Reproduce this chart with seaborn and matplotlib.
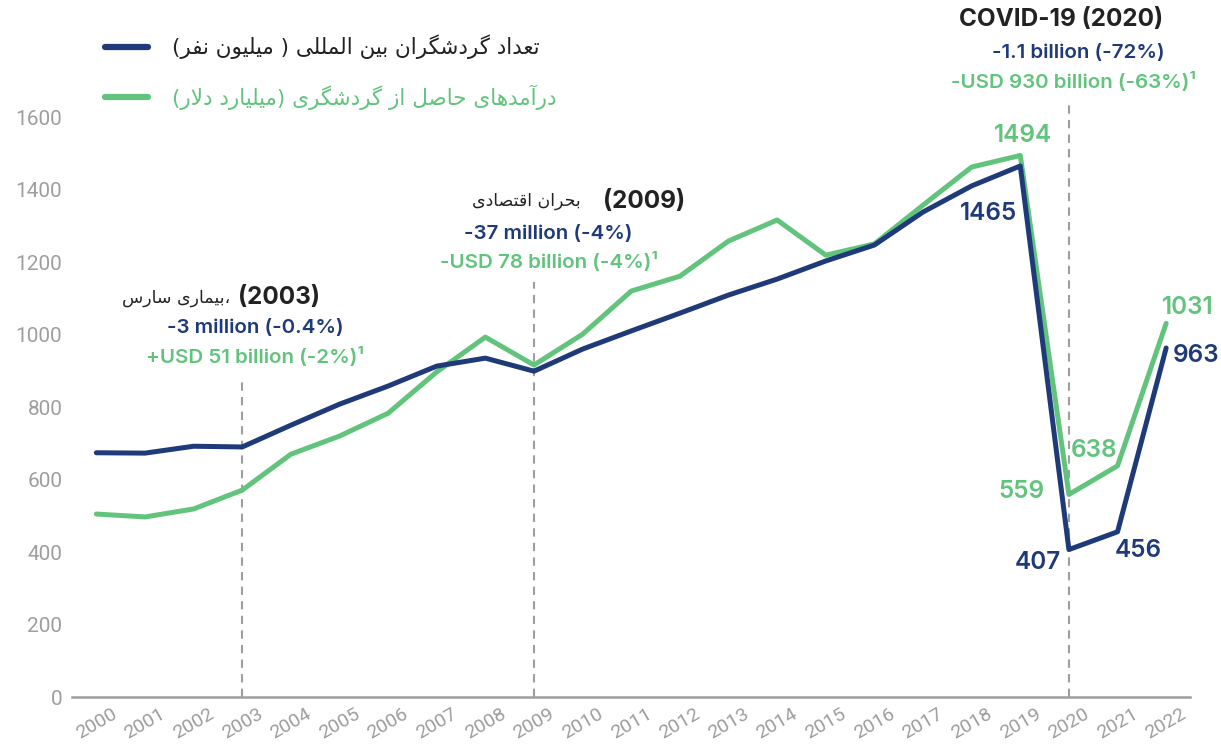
import matplotlib
matplotlib.use('Agg')
import matplotlib.pyplot as plt
import matplotlib.transforms as mtransforms
import seaborn as sns
import pandas as pd

years = list(range(2000, 2023))
arrivals = [674, 673, 692, 690, 750, 808, 858, 913, 935, 899, 960, 1010, 1059,
            1109, 1153, 1203, 1247, 1338, 1410, 1465, 407, 456, 963]
receipts = [505, 497, 519, 571, 670, 720, 783, 897, 993, 916, 1001, 1120, 1161,
            1258, 1316, 1219, 1250, 1357, 1462, 1494, 559, 638, 1031]
y_ticks = [0, 200, 400, 600, 800, 1000, 1200, 1400, 1600]
event_years = [2003, 2009, 2020]

label_arrivals = "تعداد گردشگران بین المللی ( میلیون نفر)"
label_receipts = "درآمدهای حاصل از گردشگری (میلیارد دلار)"

NAVY = "#1f3a78"
GREEN = "#62c47c"
GRAY = "#9e9e9e"

# --- tiny Persian shaper (no arabic_reshaper available) ---
FORMS = {
    'ا': (0xFE8D, 0xFE8E, None, None), 'آ': (0xFE81, 0xFE82, None, None),
    'ب': (0xFE8F, 0xFE90, 0xFE91, 0xFE92), 'ت': (0xFE95, 0xFE96, 0xFE97, 0xFE98),
    'ح': (0xFEA1, 0xFEA2, 0xFEA3, 0xFEA4), 'د': (0xFEA9, 0xFEAA, None, None),
    'ر': (0xFEAD, 0xFEAE, None, None), 'ز': (0xFEAF, 0xFEB0, None, None),
    'س': (0xFEB1, 0xFEB2, 0xFEB3, 0xFEB4), 'ش': (0xFEB5, 0xFEB6, 0xFEB7, 0xFEB8),
    'ص': (0xFEB9, 0xFEBA, 0xFEBB, 0xFEBC), 'ع': (0xFEC9, 0xFECA, 0xFECB, 0xFECC),
    'ف': (0xFED1, 0xFED2, 0xFED3, 0xFED4), 'ق': (0xFED5, 0xFED6, 0xFED7, 0xFED8),
    'ل': (0xFEDD, 0xFEDE, 0xFEDF, 0xFEE0), 'م': (0xFEE1, 0xFEE2, 0xFEE3, 0xFEE4),
    'ن': (0xFEE5, 0xFEE6, 0xFEE7, 0xFEE8), 'ه': (0xFEE9, 0xFEEA, 0xFEEB, 0xFEEC),
    'و': (0xFEED, 0xFEEE, None, None), 'ی': (0xFEEF, 0xFEF0, 0xFEF3, 0xFEF4),
    'گ': (0xFB92, 0xFB93, 0xFB94, 0xFB95),
}


def fa(text):
    out = []
    i = 0
    n = len(text)
    while i < n:
        c = text[i]
        if c not in FORMS:
            out.append(c)
            i += 1
            continue
        prev = text[i - 1] if i > 0 else ''
        joins_prev = prev in FORMS and FORMS[prev][2] is not None
        if c == 'ل' and i + 1 < n and text[i + 1] in ('ا', 'آ'):
            base = 0xFEFB if text[i + 1] == 'ا' else 0xFEF5
            out.append(chr(base + (1 if joins_prev else 0)))
            i += 2
            continue
        nxt = text[i + 1] if i + 1 < n else ''
        joins_next = FORMS[c][2] is not None and nxt in FORMS
        iso, fin, ini, med = FORMS[c]
        if joins_prev and joins_next:
            code = med
        elif joins_prev:
            code = fin
        elif joins_next:
            code = ini
        else:
            code = iso
        out.append(chr(code))
        i += 1
    vis = ''.join(out)[::-1]
    return vis.translate(str.maketrans('()', ')('))


df = pd.DataFrame({'year': years * 2,
                   'value': arrivals + receipts,
                   'series': ['arrivals'] * len(years) + ['receipts'] * len(years)})

sns.set_theme(style="white")
plt.rcParams['font.family'] = ['Inter', 'DejaVu Sans']

fig = plt.figure(figsize=(12.21, 7.48), dpi=100)
ax = fig.add_axes([0.059, 0.068, 0.916, 0.932])

sns.lineplot(data=df, x='year', y='value', hue='series',
             palette={'arrivals': NAVY, 'receipts': GREEN},
             hue_order=['receipts', 'arrivals'], linewidth=3.6, legend=False, ax=ax)

ax.set_xlim(1999.5, 2022.5)
ax.set_ylim(0, 697 / 0.3625)
ax.set_xlabel('')
ax.set_ylabel('')
ax.set_yticks(y_ticks)
ax.set_yticklabels([str(v) for v in y_ticks], family='Roboto',
                   fontsize=15, color=GRAY)
ax.set_xticks(years)
ax.set_xticklabels([str(y) for y in years], family='Roboto',
                   fontsize=14, color=GRAY, rotation=30, ha='center')
shift = mtransforms.ScaledTranslation(-12 / 100, 0, fig.dpi_scale_trans)
for t in ax.get_xticklabels():
    t.set_transform(t.get_transform() + shift)
ax.tick_params(axis='y', length=0, pad=7)
ax.tick_params(axis='x', direction='inout', length=9, width=1.2, color=GRAY, pad=1)
for s in ['top', 'right', 'left']:
    ax.spines[s].set_visible(False)
ax.spines['bottom'].set_color(GRAY)
ax.spines['bottom'].set_linewidth(1.8)

# dashed event markers
tops = {2003: 870, 2009: 1145, 2020: 1650}
for yr in event_years:
    ax.plot([yr, yr], [0, tops[yr]], color=GRAY, lw=1.5, ls=(0, (4, 3)), zorder=1)

# event annotations
head = dict(fontsize=17.5, fontweight='bold', color='#222222', va='center')
sub = dict(fontsize=14.8, fontweight='semibold', ha='center', va='center')
per = dict(family='DejaVu Sans', fontsize=12.5, color='#222222', ha='right', va='center')

ax.text(2004.6, 1101, '(2003)', ha='right', **head)
ax.text(2002.75, 1101, fa('بیماری سارس') + '،', **per)
ax.text(2003.26, 1018, '-3 million (-0.4%)', color=NAVY, **sub)
ax.text(2003.26, 938, '+USD 51 billion (-2%)\u00b9', color=GREEN, **sub)

ax.text(2012.1, 1368, '(2009)', ha='right', **head)
ax.text(2009.97, 1368, fa('بحران اقتصادی'), **per)
ax.text(2009.3, 1277, '-37 million (-4%)', color=NAVY, **sub)
ax.text(2009.3, 1200, '-USD 78 billion (-4%)\u00b9', color=GREEN, **sub)

ax.text(2019.84, 1868, 'COVID-19 (2020)', ha='center', **head)
ax.text(2020.19, 1777, '-1.1 billion (-72%)', color=NAVY, **sub)
ax.text(2020.09, 1697, '-USD 930 billion (-63%)\u00b9', color=GREEN, **sub)

# value labels
lbl = dict(fontsize=17.5, fontweight='semibold', va='center', ha='center')
ax.text(2019.05, receipts[19] + 56, str(receipts[19]), color=GREEN, **lbl)
ax.text(2018.35, arrivals[19] - 130, str(arrivals[19]), color=NAVY, **lbl)
ax.text(2019.02, receipts[20] + 7, str(receipts[20]), color=GREEN, **lbl)
ax.text(2019.37, arrivals[20] - 35, str(arrivals[20]), color=NAVY, **lbl)
ax.text(2020.52, receipts[21] + 43, str(receipts[21]), color=GREEN, **lbl)
ax.text(2021.42, arrivals[21] - 51, str(arrivals[21]), color=NAVY, **lbl)
ax.text(2022.45, receipts[22] + 45, str(receipts[22]), color=GREEN, **lbl)
ax.text(2022.62, arrivals[22] - 20, str(arrivals[22]), color=NAVY, **lbl)

# legend drawn by hand
fig.lines.append(plt.Line2D([105 / 1221, 148 / 1221], [1 - 47 / 748] * 2, color=NAVY,
                            lw=4.5, solid_capstyle='round', transform=fig.transFigure))
fig.lines.append(plt.Line2D([105 / 1221, 148 / 1221], [1 - 97 / 748] * 2, color=GREEN,
                            lw=4.5, solid_capstyle='round', transform=fig.transFigure))
fig.text(172 / 1221, 1 - 47 / 748, fa(label_arrivals), family='DejaVu Sans', fontsize=15.5,
         color='#222222', ha='left', va='center')
fig.text(172 / 1221, 1 - 97 / 748, fa(label_receipts), family='DejaVu Sans', fontsize=15.5,
         color=GREEN, ha='left', va='center')

fig.savefig('out.png', dpi=100)
